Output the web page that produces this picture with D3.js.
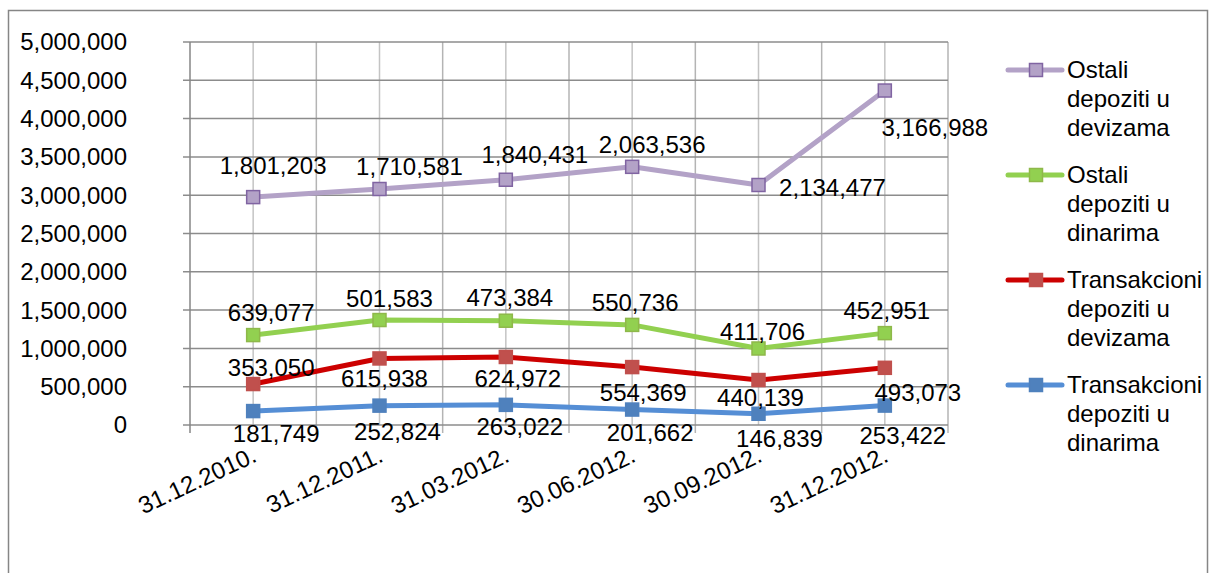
<!DOCTYPE html>
<html>
<head>
  <meta charset='utf-8'>
  <script src="https://cdnjs.cloudflare.com/ajax/libs/d3/7.8.5/d3.min.js"></script>
  <style>
    body { margin: 0; background: #fff; }
    text { font-family: "Liberation Sans", Arial, sans-serif; fill: #000; font-size: 24px; }
  </style>
</head>
<body>
<div id='chart'></div>
<script>
  // data (stacked line chart, values per series)
  var categories = ['31.12.2010.', '31.12.2011.', '31.03.2012.', '30.06.2012.', '30.09.2012.', '31.12.2012.'];
  var seriesNames = ['Transakcioni depoziti u dinarima', 'Transakcioni depoziti u devizama', 'Ostali depoziti u dinarima', 'Ostali depoziti u devizama'];
  var transDin = [181749, 252824, 263022, 201662, 146839, 253422];
  var transDev = [353050, 615938, 624972, 554369, 440139, 493073];
  var ostaliDin = [639077, 501583, 473384, 550736, 411706, 452951];
  var ostaliDev = [1801203, 1710581, 1840431, 2063536, 2134477, 3166988];
  var yTicks = [0, 500000, 1000000, 1500000, 2000000, 2500000, 3000000, 3500000, 4000000, 4500000, 5000000];

  var width = 1209, height = 573;
  var svg = d3.select('#chart').append('svg')
    .attr('width', width)
    .attr('height', height);

  // outer chart border
  svg.append('rect')
    .attr('x', 8.5).attr('y', 10.5)
    .attr('width', 1199).attr('height', 600)
    .attr('fill', 'none').attr('stroke', '#868686').attr('stroke-width', 1.5);

  var pLeft = 190, pRight = 948, pTop = 42, pBottom = 425;

  var x = d3.scaleBand().domain(categories).range([pLeft, pRight]);
  var y = d3.scaleLinear().domain([0, 5000000]).range([pBottom, pTop]);
  var fmt = d3.format(',');
  function cx(c) { return x(c) + x.bandwidth() / 2; }

  // vertical gridlines at category centres and boundaries
  var g = svg.append('g');
  categories.forEach(function(c) {
    g.append('line').attr('x1', cx(c)).attr('x2', cx(c)).attr('y1', pTop).attr('y2', pBottom)
      .attr('stroke', '#c4c4c4').attr('stroke-width', 1.5);
    var bx = x(c) + x.bandwidth();
    g.append('line').attr('x1', bx).attr('x2', bx).attr('y1', pTop).attr('y2', pBottom + 8)
      .attr('stroke', '#b4b4b4').attr('stroke-width', 1.5);
  });

  // horizontal gridlines
  yTicks.forEach(function(t) {
    g.append('line').attr('x1', pLeft - 7).attr('x2', pRight).attr('y1', y(t)).attr('y2', y(t))
      .attr('stroke', '#8c8c8c').attr('stroke-width', 1.5);
  });
  g.append('line').attr('x1', pLeft).attr('x2', pLeft).attr('y1', pTop).attr('y2', pBottom + 8)
    .attr('stroke', '#868686').attr('stroke-width', 1.5);

  // y tick labels
  svg.append('g').selectAll('text').data(yTicks).enter().append('text')
    .attr('x', 127).attr('y', function(d) { return y(d); })
    .attr('dy', '0.35em')
    .attr('text-anchor', 'end')
    .text(function(d) { return fmt(d); });

  // x labels rotated
  svg.append('g').selectAll('text').data(categories).enter().append('text')
    .attr('transform', function(d) {
      return 'translate(' + (cx(d) + 5) + ',461) rotate(-25)';
    })
    .attr('text-anchor', 'end')
    .text(function(d) { return d; });

  // stacking
  var raw = [transDin, transDev, ostaliDin, ostaliDev];
  var stacked = [];
  var cum = categories.map(function() { return 0; });
  raw.forEach(function(arr) {
    cum = cum.map(function(v, i) { return v + arr[i]; });
    stacked.push(cum.slice());
  });

  var styles = [
    { line: '#558ed5', fill: '#4f81bd', stroke: '#4f81bd' },
    { line: '#cc0000', fill: '#c0504d', stroke: '#c0504d' },
    { line: '#92d050', fill: '#92d050', stroke: '#8eb84a' },
    { line: '#b3a2c7', fill: '#b3a2c7', stroke: '#8064a2' }
  ];

  // label offsets [dx, dy] relative to point, per series / point
  var labelOffsets = [
    [[23, 23], [18, 26], [14, 22], [18, 23], [21, 25], [18, 30]],
    [[18, -16], [5, 20], [12, 22], [11, 26], [2, 18], [33, 25]],
    [[18, -22], [10, -21], [4, -23], [3, -22], [4, -17], [2, -23]],
    [[20, -32], [30, -22], [29, -25], [20, -22], [74, 3], [50, 37]]
  ];

  var line = d3.line()
    .x(function(d, i) { return cx(categories[i]); })
    .y(function(d) { return y(d); });

  var lines = svg.append('g');
  stacked.forEach(function(vals, s) {
    lines.append('path').datum(vals)
      .attr('d', line)
      .attr('fill', 'none')
      .attr('stroke', styles[s].line)
      .attr('stroke-width', 5)
      .attr('stroke-linejoin', 'round');
  });
  stacked.forEach(function(vals, s) {
    lines.selectAll('rect.m' + s).data(vals).enter().append('rect')
      .attr('x', function(d, i) { return cx(categories[i]) - 6.5; })
      .attr('y', function(d) { return y(d) - 6.5; })
      .attr('width', 13).attr('height', 13)
      .attr('fill', styles[s].fill)
      .attr('stroke', styles[s].stroke)
      .attr('stroke-width', 1.5);
  });

  // data labels
  var labels = svg.append('g');
  stacked.forEach(function(vals, s) {
    vals.forEach(function(v, i) {
      var off = labelOffsets[s][i];
      labels.append('text')
        .attr('x', cx(categories[i]) + off[0])
        .attr('y', y(v) + off[1])
        .attr('dy', '0.35em')
        .attr('text-anchor', 'middle')
        .text(fmt(raw[s][i]));
    });
  });

  // legend
  var legendItems = [3, 2, 1, 0];
  var legendWrap = [
    ['Ostali', 'depoziti u', 'devizama'],
    ['Ostali', 'depoziti u', 'dinarima'],
    ['Transakcioni', 'depoziti u', 'devizama'],
    ['Transakcioni', 'depoziti u', 'dinarima']
  ];
  var legend = svg.append('g');
  legendItems.forEach(function(s, k) {
    var ly = 70 + k * 105;
    legend.append('line').attr('x1', 1008).attr('x2', 1062).attr('y1', ly).attr('y2', ly)
      .attr('stroke', styles[s].line).attr('stroke-width', 5).attr('stroke-linecap', 'round');
    legend.append('rect').attr('x', 1029.5).attr('y', ly - 6.5).attr('width', 13).attr('height', 13)
      .attr('fill', styles[s].fill).attr('stroke', styles[s].stroke).attr('stroke-width', 1.5);
    var t = legend.append('text').attr('x', 1067).attr('y', ly);
    legendWrap[k].forEach(function(w, j) {
      t.append('tspan').attr('x', 1067).attr('dy', j === 0 ? '0.35em' : '1.2em').text(w);
    });
  });
</script>
</body>
</html>
